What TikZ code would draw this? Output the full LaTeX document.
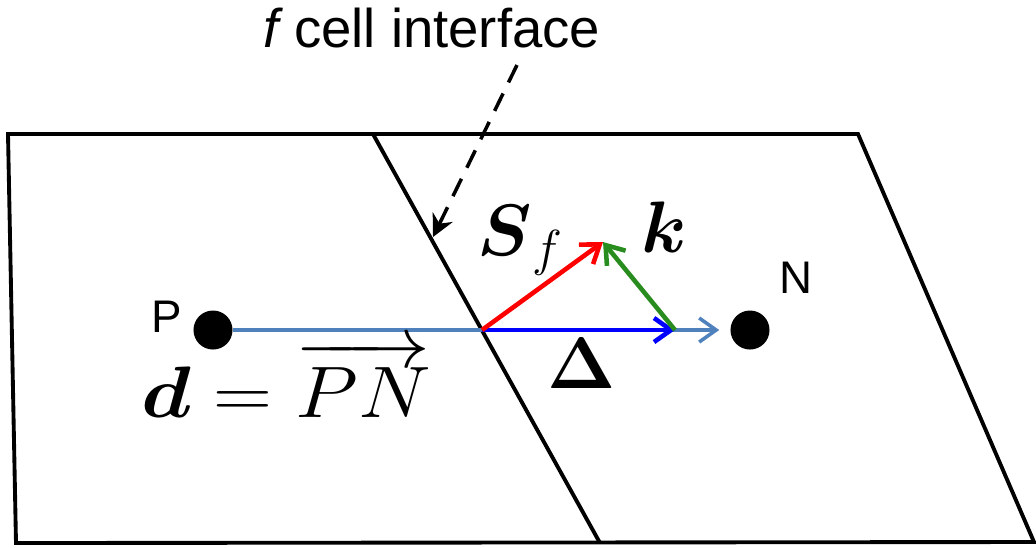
\documentclass[tikz,border=0pt]{standalone}
\usepackage{amsmath,amssymb}
\usepackage{graphicx}
\usepackage{fontspec}
\newfontfamily\arialfont{Liberation Sans}
\usetikzlibrary{arrows.meta}

\definecolor{dlineblue}{RGB}{79,129,189}
\definecolor{vecgreen}{RGB}{40,140,30}

\begin{document}
\begin{tikzpicture}[x=0.01cm, y=-0.01cm,
  cellline/.style={line width=1.1pt, line join=miter},
  dot/.style={circle, fill=black, inner sep=0pt, minimum size=0.39cm},
  lbl/.style={font=\arialfont\fontsize{13}{15}\selectfont, inner sep=0pt},
  mlbl/.style={font=\fontsize{21}{25}\selectfont, inner sep=0pt},
  varr/.style={-{Straight Barb[length=1.7mm,width=2.4mm]}, line width=1.3pt},
  dlarr/.style={-{Straight Barb[length=1.7mm,width=2.4mm]}, line width=1pt, dlineblue},
  callout/.style={-{Stealth[length=2.2mm,width=2.2mm]}, line width=1pt,
    dash pattern=on 5.5pt off 3.5pt},
]
\useasboundingbox (0,0) rectangle (1036,547);

% the two cells
\coordinate (tl) at (8,134);
\coordinate (tr) at (858,134);
\coordinate (br) at (1034,542);
\coordinate (bl) at (16,543);
\coordinate (ftop) at (373,134);
\coordinate (fbot) at (600,543);
\draw[cellline] (tl) -- (tr) -- (br) -- (bl) -- cycle;
\draw[cellline] (ftop) -- (fbot);

% cell centres
\node[dot] (P) at (213,330) {};
\node[dot] (N) at (750,330) {};
\node[lbl, anchor=base] (Plbl) at (167,332) {P};
\node[lbl, anchor=base] (Nlbl) at (796,293) {N};

% face point and vectors
\coordinate (F) at (482,330);
\coordinate (D) at (675,330);
\coordinate (Stip) at (603,242);
\draw[dlarr, shorten >=3pt] (P) -- (N);
\draw[varr, blue] (F) -- (D);
\draw[varr, red] (F) -- (Stip);
\draw[varr, vecgreen] (D) -- (Stip);

\node[mlbl, anchor=base] (dlbl) at (286,417)
  {\scalebox{1.12}[1]{$\boldsymbol{d}=\overrightarrow{PN}$}};
\node[mlbl, anchor=base west] (Slbl) at (477,255) {$\boldsymbol{S}_f$};
\node[mlbl, anchor=base west] (klbl) at (641,252) {$\boldsymbol{k}$};
\node[mlbl, anchor=base] (Dlbl) at (582,388) {$\boldsymbol{\Delta}$};

% callout for the interface
\node[font=\arialfont\fontsize{15.5}{18}\selectfont, inner sep=0pt, anchor=base]
  (flbl) at (432,47) {{\itshape f} cell interface};
\coordinate (ctail) at (517,65);
\coordinate (chead) at (433,237);
\draw[callout] (ctail) -- (chead);
\end{tikzpicture}
\end{document}
